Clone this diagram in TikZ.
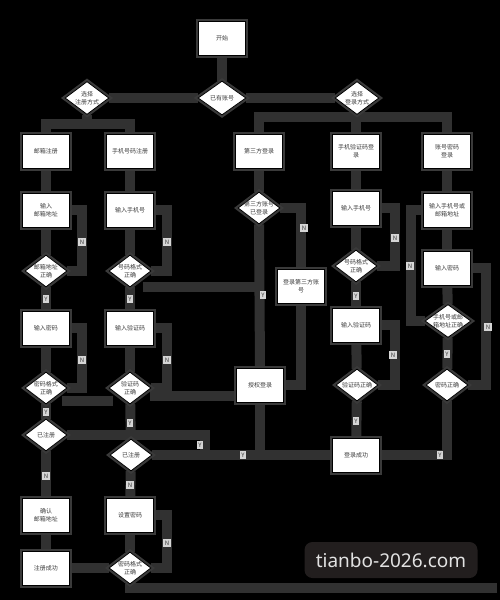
\documentclass[tikz,border=0pt]{standalone}
\usepackage{fontspec}
\setmainfont{Noto Sans CJK SC}
\newfontfamily\wmfont{Noto Sans}
\usetikzlibrary{shapes.geometric,calc}
\definecolor{band}{HTML}{313131}
\definecolor{halo}{HTML}{3a3a3a}
\definecolor{txt}{HTML}{3c3c3c}
\definecolor{labc}{HTML}{d6d6d6}
\definecolor{labt}{HTML}{3a3a3a}
\definecolor{wmbg}{HTML}{221e1e}
\definecolor{wmtx}{HTML}{e2e2e2}
\pgfdeclarelayer{bg}
\pgfdeclarelayer{lines}
\pgfsetlayers{bg,lines,main}
\begin{document}
\begin{tikzpicture}[x=1pt,y=-1pt,
  box/.style={rectangle, fill=white, draw=black, line width=0.8pt, minimum width=47pt, minimum height=34pt, inner sep=1pt, align=center, font=\fontsize{6}{7.5}\selectfont, text=txt, preaction={draw=halo, line width=5pt}},
  dia/.style={diamond, fill=white, draw=black, line width=0.8pt, minimum width=42pt, minimum height=32pt, inner sep=0pt, preaction={draw=halo, line width=5pt}},
  dtext/.style={font=\fontsize{6}{7.5}\selectfont, text=txt, align=center, inner sep=0pt},
  conn/.style={draw=band, line width=10pt},
  lab/.style={fill=labc, text=labt, font=\fontsize{6}{6}\selectfont, inner sep=1.8pt}]
\begin{pgfonlayer}{bg}
\fill[black] (0,0) rectangle (500,600);
\end{pgfonlayer}
\useasboundingbox (0,0) rectangle (500,600);

% nodes
\node[box] (start) at (222,38) {开始};
\node[dia, minimum width=48pt, minimum height=34pt, label={[dtext]center:已有账号}] (has) at (222,98) {};
\node[dia, minimum width=44pt, minimum height=33pt, label={[dtext]center:{选择\\注册方式}}] (selreg) at (87,98) {};
\node[dia, minimum width=44pt, minimum height=33pt, label={[dtext]center:{选择\\登录方式}}] (sellog) at (357,98) {};
\node[box] (emailreg) at (46,151) {邮箱注册};
\node[box] (phonereg) at (130,151) {手机号码注册};
\node[box] (third) at (259,151) {第三方登录};
\node[box] (smslog) at (356,151) {手机验证码登\\录};
\node[box] (pwdlog) at (447,151) {账号密码\\登录};
\node[box] (inemail) at (46,210) {输入\\邮箱地址};
\node[box] (inphoneR) at (130,210) {输入手机号};
\node[dia, label={[dtext]center:{第三方账号\\已登录}}] (thirdok) at (259,208) {};
\node[box] (inphoneL) at (356,208) {输入手机号};
\node[box] (inacct) at (447,210) {输入手机号或\\邮箱地址};
\node[dia, label={[dtext]center:{邮箱地址\\正确}}] (emailok) at (46,271) {};
\node[dia, label={[dtext]center:{号码格式\\正确}}] (phfmtR) at (130,271) {};
\node[dia, label={[dtext]center:{号码格式\\正确}}] (phfmtL) at (356,266) {};
\node[box] (inpwdR) at (447,268) {输入密码};
\node[box] (logthird) at (301,286) {登录第三方账\\号};
\node[box] (inpwdL) at (46,328) {输入密码};
\node[box] (invcodeR) at (130,328) {输入验证码};
\node[box] (invcodeL) at (356,325) {输入验证码};
\node[dia, minimum width=46pt, minimum height=33pt, label={[dtext]center:{手机号或邮\\箱地址正确}}] (acctok) at (448,321) {};
\node[dia, label={[dtext]center:{密码格式\\正确}}] (pwdfmtL) at (46,388) {};
\node[dia, label={[dtext]center:{验证码\\正确}}] (vcodeokR) at (130,388) {};
\node[box] (auth) at (260,385) {授权登录};
\node[dia, label={[dtext]center:验证码正确}] (vcodeokL) at (357,385) {};
\node[dia, label={[dtext]center:密码正确}] (pwdok) at (447,385) {};
\node[dia, label={[dtext]center:已注册}] (regL) at (46,435) {};
\node[dia, label={[dtext]center:已注册}] (regM) at (131,455) {};
\node[box] (succ) at (356,455) {登录成功};
\node[box] (confirm) at (46,515) {确认\\邮箱地址};
\node[box] (setpwd) at (130,515) {设置密码};
\node[box] (regdone) at (46,568) {注册成功};
\node[dia, label={[dtext]center:{密码格式\\正确}}] (pwdfmtM) at (130,568) {};

% connectors
\coordinate (rj) at (87,124);
\coordinate (lj) at (357,117);
\coordinate (x1) at (143,287);
\coordinate (x2) at (259,287);
\coordinate (x3) at (150,396);
\coordinate (x4) at (62,401);
\coordinate (x5) at (113,401);
\coordinate (rb) at (497,588);
\begin{pgfonlayer}{lines}
\draw[conn] (start) -- (has);
\draw[conn] (has.west) -- (selreg.east);
\draw[conn] (has.east) -- (sellog.west);
\draw[conn] (selreg.south) -- (rj) -| (emailreg.north);
\draw[conn] (rj) -| (phonereg.north);
\draw[conn] (sellog.south) -- (lj) -| (third.north);
\draw[conn] (lj) -| (smslog.north);
\draw[conn] (lj) -| (pwdlog.north);
% email registration
\draw[conn] (emailreg) -- (inemail);
\draw[conn] (inemail) -- (emailok);
\draw[conn] (emailok) -- (inpwdL);
\draw[conn] (emailok.east) -- (82,271) |- (inemail.east);
\draw[conn] (inpwdL) -- (pwdfmtL);
\draw[conn] (pwdfmtL.east) -- (82,388) |- (inpwdL.east);
\draw[conn] (pwdfmtL) -- (regL);
\draw[conn] (x4) -- (x5);
\draw[conn] (regL) -- (confirm);
\draw[conn] (confirm) -- (regdone);
\draw[conn] (regL.east) -| (205,455);
% phone registration
\draw[conn] (phonereg) -- (inphoneR);
\draw[conn] (inphoneR) -- (phfmtR);
\draw[conn] (phfmtR.east) -- (167,271) |- (inphoneR.east);
\draw[conn] (x1) -- (x2);
\draw[conn] (phfmtR) -- (invcodeR);
\draw[conn] (invcodeR) -- (vcodeokR);
\draw[conn] (vcodeokR.east) -- (167,388) |- (invcodeR.east);
\draw[conn] (x3) -- (auth.west |- x3);
\draw[conn] (vcodeokR) -- (regM);
\draw[conn] (regM.east) -- (succ.west);
\draw[conn] (regM) -- (setpwd);
\draw[conn] (setpwd) -- (pwdfmtM);
\draw[conn] (pwdfmtM.east) -- (167,568) |- (setpwd.east);
\draw[conn] (pwdfmtM.west) -- (regdone.east);
\draw[conn] (pwdfmtM.south) |- (rb);
% third party
\draw[conn] (third) -- (thirdok);
\draw[conn] (thirdok.south) -- (auth.north);
\draw[conn] (thirdok.east) -| (logthird.north);
\draw[conn] (logthird.south) |- (auth.east);
\draw[conn] (auth.south) |- (succ.west);
% sms login
\draw[conn] (smslog) -- (inphoneL);
\draw[conn] (inphoneL) -- (phfmtL);
\draw[conn] (phfmtL.east) -- (395,266) |- (inphoneL.east);
\draw[conn] (phfmtL) -- (invcodeL);
\draw[conn] (invcodeL) -- (vcodeokL);
\draw[conn] (vcodeokL.east) -- (395,385) |- (invcodeL.east);
\draw[conn] (vcodeokL) -- (succ);
% password login
\draw[conn] (pwdlog) -- (inacct);
\draw[conn] (inacct) -- (inpwdR);
\draw[conn] (inpwdR) -- (acctok);
\draw[conn] (acctok.west) -- (411,321) |- (inacct.west);
\draw[conn] (acctok) -- (pwdok);
\draw[conn] (pwdok.east) -- (486,385) |- (inpwdR.east);
\draw[conn] (pwdok.south) |- (succ.east);
\end{pgfonlayer}

% labels
\node[lab] (l1) at (82,242) {N};
\node[lab] (l2) at (46,299) {Y};
\node[lab] (l3) at (82,360) {N};
\node[lab] (l4) at (46,412) {Y};
\node[lab] (l5) at (46,476) {N};
\node[lab] (l6) at (200,445) {Y};
\node[lab] (l7) at (167,242) {N};
\node[lab] (l8) at (130,299) {Y};
\node[lab] (l9) at (167,360) {N};
\node[lab] (l10) at (130,423) {Y};
\node[lab] (l11) at (130,485) {N};
\node[lab] (l12) at (167,543) {N};
\node[lab] (l13) at (243,455) {Y};
\node[lab] (l14) at (304,228) {N};
\node[lab] (l15) at (263,295) {Y};
\node[lab] (l16) at (395,238) {N};
\node[lab] (l17) at (356,296) {Y};
\node[lab] (l18) at (393,355) {N};
\node[lab] (l19) at (356,421) {Y};
\node[lab] (l20) at (410,266) {N};
\node[lab] (l21) at (488,327) {N};
\node[lab] (l22) at (447,354) {Y};
\node[lab] (l23) at (440,455) {Y};

% watermark
\node[fill=wmbg, rounded corners=8pt, minimum width=173pt, minimum height=36pt, text=wmtx, font=\wmfont\fontsize{19}{19}\selectfont] (wm) at (391,560) {tianbo-2026.com};
\end{tikzpicture}
\end{document}
